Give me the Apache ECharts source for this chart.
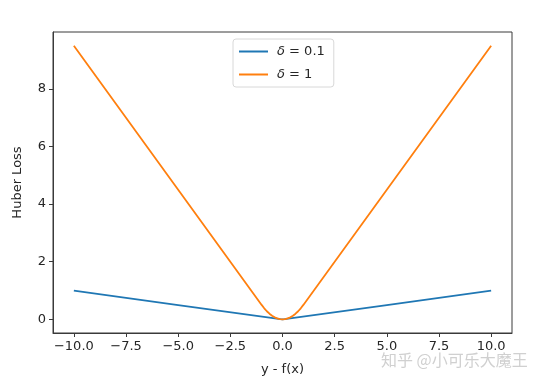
<!DOCTYPE html>
<html><head><meta charset="utf-8">
<script src="https://cdn.jsdelivr.net/npm/echarts@6/dist/echarts.min.js"></script>
<style>html,body{margin:0;padding:0;background:#fff}#c{width:545px;height:386px}</style>
</head><body><div id="c"></div>
<script>
const seriesNames = ['δ = 0.1', 'δ = 1'];
const xSmall = [-10, -5, -0.1, -0.05, 0, 0.05, 0.1, 5, 10];
const ySmall = [0.995, 0.495, 0.005, 0.00125, 0, 0.00125, 0.005, 0.495, 0.995];
const xBig = [-10, -5, -1, -0.875, -0.75, -0.625, -0.5, -0.375, -0.25, -0.125, 0, 0.125, 0.25, 0.375, 0.5, 0.625, 0.75, 0.875, 1, 5, 10];
const yBig = [9.5, 4.5, 0.5, 0.383, 0.281, 0.195, 0.125, 0.07, 0.031, 0.008, 0, 0.008, 0.031, 0.07, 0.125, 0.195, 0.281, 0.383, 0.5, 4.5, 9.5];
const xTicks = [-10, -7.5, -5, -2.5, 0, 2.5, 5, 7.5, 10];
const yTicks = [0, 2, 4, 6, 8];

const pair = (xs, ys) => xs.map((x, i) => [x, ys[i]]);
const fmtMinus = (s) => s.replace('-', '\u2212');
const font = 'DejaVu Sans';
const txt = '#262626';

const chart = echarts.init(document.getElementById('c'), null, {renderer: 'canvas'});
chart.setOption({
  animation: false,
  grid: {left: 53, right: 33, top: 32, bottom: 53, show: true, borderColor: '#3a3a3a', borderWidth: 1, backgroundColor: 'transparent'},
  xAxis: {
    type: 'value', min: -11, max: 11,
    name: 'y - f(x)', nameLocation: 'middle', nameGap: 30,
    nameTextStyle: {fontFamily: font, fontSize: 13, color: txt},
    axisLine: {show: true, onZero: false, lineStyle: {color: '#3a3a3a'}},
    axisTick: {show: true, length: 4, customValues: xTicks, lineStyle: {color: '#3a3a3a'}},
    axisLabel: {customValues: xTicks, fontFamily: font, fontSize: 13, color: txt, margin: 7,
      formatter: v => fmtMinus(v.toFixed(1))},
    splitLine: {show: false}
  },
  yAxis: {
    type: 'value', min: -0.475, max: 9.975,
    name: 'Huber Loss', nameLocation: 'middle', nameGap: 29, nameRotate: 90,
    nameTextStyle: {fontFamily: font, fontSize: 13, color: txt},
    axisLine: {show: true, onZero: false, lineStyle: {color: '#3a3a3a'}},
    axisTick: {show: true, length: 4, customValues: yTicks, lineStyle: {color: '#3a3a3a'}},
    axisLabel: {customValues: yTicks, fontFamily: font, fontSize: 13, color: txt, margin: 7},
    splitLine: {show: false}
  },
  legend: {
    left: 233, top: 39, orient: 'vertical', itemGap: 10,
    icon: 'rect', itemWidth: 29, itemHeight: 2,
    padding: [6, 9, 6, 6],
    borderColor: '#d8d8d8', borderWidth: 1, borderRadius: 3, backgroundColor: '#fff',
    textStyle: {fontFamily: font, fontSize: 13, color: txt, padding: [0, 0, 0, 4],
      rich: {i: {fontFamily: font, fontStyle: 'italic', fontSize: 13, color: txt}}},
    formatter: n => '{i|δ}' + n.slice(1),
    data: seriesNames
  },
  series: [
    {name: seriesNames[0], type: 'line', data: pair(xSmall, ySmall), symbol: 'none', smooth: false,
     lineStyle: {color: '#1f77b4', width: 1.8}, itemStyle: {color: '#1f77b4'}},
    {name: seriesNames[1], type: 'line', data: pair(xBig, yBig), symbol: 'none', smooth: false,
     lineStyle: {color: '#ff7f0e', width: 1.8}, itemStyle: {color: '#ff7f0e'}}
  ],
  graphic: [{
    type: 'text', left: 381, top: 352,
    style: {text: '知乎 @小可乐大魔王', font: '16px "Noto Sans CJK SC"', fill: '#d0d0d0'}
  }]
});
</script></body></html>
